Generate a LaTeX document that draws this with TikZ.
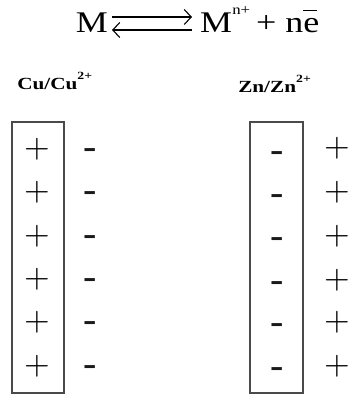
\documentclass[tikz,border=0pt]{standalone}
\usepackage{fontspec}
\setmainfont{Liberation Serif}
\newfontfamily\lmfont{lmroman10-regular.otf}
\usepackage{tikz}
\usetikzlibrary{arrows.meta}
\definecolor{platec}{HTML}{4A4A4A}
\definecolor{chargec}{HTML}{1A1A1A}
\tikzset{
  plate/.style={draw=platec, line width=1.3pt, inner sep=0pt, minimum width=52pt, minimum height=271pt},
  poscharge/.style={inner sep=0pt, font=\lmfont\fontsize{33}{33}\selectfont},
  negcharge/.style={inner sep=0pt, yshift=-3.9pt, text=chargec, font=\fontsize{40}{40}\selectfont},
  lbl/.style={inner sep=0pt, anchor=base west, xscale=1.25, font=\bfseries\fontsize{17}{17}\selectfont},
  eq/.style={inner sep=0pt, xscale=1.2, font=\fontsize{30}{30}\selectfont},
  eqarrow/.style={line width=1.1pt, -{Straight Barb[length=7pt,width=15pt]}},
}

\begin{document}
\begin{tikzpicture}[x=1pt, y=1pt]
\useasboundingbox (0,0) rectangle (349,394);
% reaction
\node[eq, anchor=base east] (m) at (108,361) {M};
\node[eq, anchor=base west] (mn) at (200,361) {M\raisebox{18pt}{\fontsize{14}{14}\selectfont n+}\,+ n\rlap{\rule[22pt]{11pt}{1.1pt}}e};
\draw[eqarrow] ([shift={(4pt,16pt)}]m.base east) -- ([shift={(-8pt,16pt)}]mn.base west);
\draw[eqarrow] ([shift={(-8pt,3pt)}]mn.base west) -- ([shift={(4pt,3pt)}]m.base east);
% electrodes
\node[lbl] (cu) at (17,304) {Cu/Cu\raisebox{10pt}{\fontsize{11}{11}\selectfont 2+}};
\node[lbl] (zn) at (238,301) {Zn/Zn\raisebox{10pt}{\fontsize{11}{11}\selectfont 2+}};
\node[plate] (cuplate) at (38,136.5) {};
\node[plate, minimum width=53pt] (znplate) at (276.5,136.5) {};
% copper: + in metal, - in solution
\node[poscharge] (cup1) at (37,245) {+};
\node[poscharge] (cup2) at (37,201.6) {+};
\node[poscharge] (cup3) at (37,158.2) {+};
\node[poscharge] (cup4) at (37,114.8) {+};
\node[poscharge] (cup5) at (37,71.4) {+};
\node[poscharge] (cup6) at (37,28) {+};
\node[negcharge] (cun1) at (90,244) {-};
\node[negcharge] (cun2) at (90,200.6) {-};
\node[negcharge] (cun3) at (90,157.2) {-};
\node[negcharge] (cun4) at (90,113.8) {-};
\node[negcharge] (cun5) at (90,70.4) {-};
\node[negcharge] (cun6) at (90,27) {-};
% zinc: - in metal, + in solution
\node[negcharge] (znn1) at (277,241) {-};
\node[negcharge] (znn2) at (277,198) {-};
\node[negcharge] (znn3) at (277,155) {-};
\node[negcharge] (znn4) at (277,111) {-};
\node[negcharge] (znn5) at (277,69) {-};
\node[negcharge] (znn6) at (277,25) {-};
\node[poscharge] (znp1) at (337,246) {+};
\node[poscharge] (znp2) at (337,202) {+};
\node[poscharge] (znp3) at (337,158) {+};
\node[poscharge] (znp4) at (337,114) {+};
\node[poscharge] (znp5) at (337,72) {+};
\node[poscharge] (znp6) at (337,28) {+};
\end{tikzpicture}
\end{document}
